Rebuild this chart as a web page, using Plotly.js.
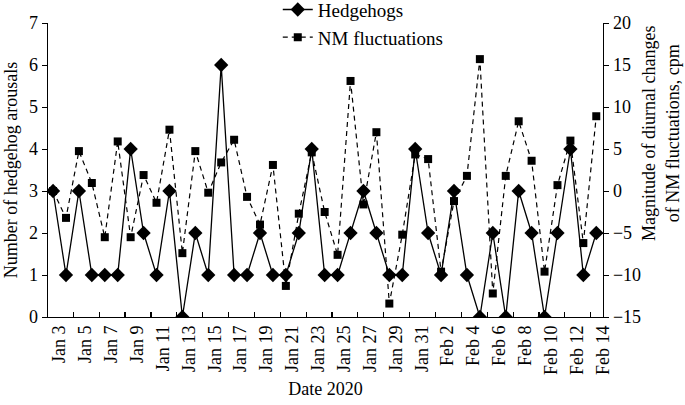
<!DOCTYPE html>
<html>
<head>
<meta charset="utf-8">
<script src="https://cdn.plot.ly/plotly-3.0.1.min.js"></script>
<style>html,body{margin:0;padding:0;background:#fff}#chart{width:685px;height:405px}</style>
</head>
<body>
<div id="chart"></div>
<script>
const dates = ["Jan 3","Jan 4","Jan 5","Jan 6","Jan 7","Jan 8","Jan 9","Jan 10","Jan 11","Jan 12",
  "Jan 13","Jan 14","Jan 15","Jan 16","Jan 17","Jan 18","Jan 19","Jan 20","Jan 21","Jan 22",
  "Jan 23","Jan 24","Jan 25","Jan 26","Jan 27","Jan 28","Jan 29","Jan 30","Jan 31","Feb 1",
  "Feb 2","Feb 3","Feb 4","Feb 5","Feb 6","Feb 7","Feb 8","Feb 9","Feb 10","Feb 11",
  "Feb 12","Feb 13","Feb 14"];
const hedgehogs = [3,1,3,1,1,1,4,2,1,3, 0,2,1,6,1,1,2,1,1,2, 4,1,1,2,3,2,1,1,4,2, 1,3,1,0,2,0,3,2,0,2, 4,1,2];
const nmFluct = [0,-3.2,4.75,0.95,-5.5,5.9,-5.5,1.9,-1.4,7.3, -7.4,4.75,-0.2,3.4,6.1,-0.7,-4.0,3.1,-11.3,-2.7,
  4.6,-2.5,-7.6,13.1,-1.6,7.0,-13.4,-5.2,4.35,3.8, -9.6,-1.2,1.8,15.7,-12.2,1.8,8.3,3.6,-9.6,0.7, 6.0,-6.2,8.9];
const tickLabels = dates.filter((d,i)=>i%2===0);
const leftTitle = 'Number of hedgehog arousals';
const rightTitle = 'Magnitude of diurnal changes<br>of NM fluctuations, cpm';
const xTitle = 'Date 2020';

const xIdx = dates.map((d,i)=>i);
const labelPos = tickLabels.map((d,k)=>2*k+0.5);
const minorPos = tickLabels.map((d,k)=>2*k+1.57).filter(v=>v<42.4);

const font = {family:'"Liberation Serif", "Times New Roman", serif', color:'#000'};
const f = s => Object.assign({size:s}, font);

const traces = [
  {x:xIdx, y:hedgehogs, name:'Hedgehogs', type:'scatter', mode:'lines+markers',
   line:{color:'#000', width:1.3}, marker:{symbol:'diamond', size:11, color:'#000'}, yaxis:'y'},
  {x:xIdx, y:nmFluct, name:'NM fluctuations', type:'scatter', mode:'lines+markers',
   line:{color:'#000', width:1.2, dash:'5px,4px'}, marker:{symbol:'square', size:8, color:'#000'}, yaxis:'y2'}
];

const layout = {
  width:685, height:405,
  margin:{l:48, r:82, t:23, b:88, autoexpand:false},
  paper_bgcolor:'#fff', plot_bgcolor:'#fff',
  font:f(18),
  showlegend:true,
  legend:{x:0.414, y:1.11, xanchor:'left', yanchor:'top', bgcolor:'rgba(0,0,0,0)',
    font:f(19), tracegroupgap:0},
  xaxis:{range:[-0.39,42.52], showgrid:false, zeroline:false, showline:true, linecolor:'#000', linewidth:1.3,
    tickmode:'array', tickvals:labelPos, ticktext:tickLabels, tickangle:-90, ticks:'inside', ticklen:0,
    tickfont:f(18),
    minor:{tickmode:'array', tickvals:minorPos, ticks:'inside', ticklen:5, tickcolor:'#000', tickwidth:1.2},
    title:{text:xTitle, font:f(18), standoff:8}},
  yaxis:{range:[0,7], dtick:1, showgrid:false, zeroline:false, showline:true, linecolor:'#000', linewidth:1.3,
    ticks:'outside', ticklen:5, tickcolor:'#000', tickfont:f(18),
    title:{text:leftTitle, font:f(18), standoff:6}},
  yaxis2:{range:[-15,20], dtick:5, overlaying:'y', side:'right', showgrid:false, zeroline:false, showline:true,
    linecolor:'#000', linewidth:1.3, ticks:'outside', ticklen:5, tickcolor:'#000', tickfont:f(18)},
  annotations:[{text:rightTitle, xref:'paper', yref:'paper', x:1.104, y:0.625, xanchor:'center', yanchor:'middle',
    textangle:-90, showarrow:false, font:f(18)}]
};

Plotly.newPlot('chart', traces, layout, {displayModeBar:false, staticPlot:true});
</script>
</body>
</html>
